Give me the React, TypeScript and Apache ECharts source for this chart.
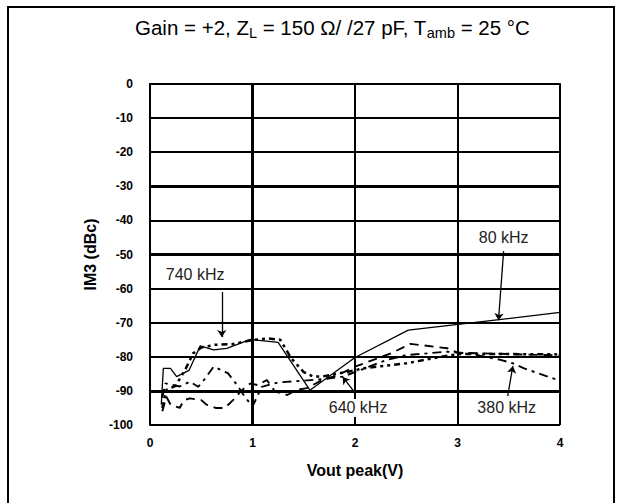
import { useEffect, useRef } from "react";
import * as echarts from "echarts";

// Axis ticks
const xTicks = [0, 1, 2, 3, 4];
const yTicks = [0, -10, -20, -30, -40, -50, -60, -70, -80, -90, -100];
const heavyY = [-30, -50, -90];
const heavyX = [1];

// 80 kHz
const f80X = [0.11, 0.13, 0.2, 0.26, 0.38, 0.49, 0.62, 0.75, 0.98, 1.25, 1.56, 2.0, 2.52, 4.0];
const f80Y = [-94, -83.4, -83.4, -85.8, -84, -76.8, -78, -77.5, -74.9, -75.8, -89.8, -80.2, -72.2, -67];

// 740 kHz
const f740X = [0.12, 0.16, 0.25, 0.35, 0.42, 0.5, 0.63, 0.8, 0.99, 1.15, 1.27, 1.38, 1.5, 1.59, 1.68, 1.85, 2.0, 2.07, 2.3, 2.5, 2.77, 3.0, 3.5, 4.0];
const f740Y = [-95, -89.7, -88.5, -83.4, -79, -77.3, -76.5, -76.3, -75.1, -74.6, -75, -80.5, -84.5, -85.8, -85.8, -84.8, -84, -83.4, -82.6, -81.9, -80.4, -79.2, -79.2, -79.3];

// 640 kHz
const f640X = [0.12, 0.16, 0.2, 0.29, 0.33, 0.39, 0.5, 0.55, 0.64, 0.73, 0.81, 0.9, 0.98, 1.05, 1.14, 1.22, 1.34, 1.43, 1.53, 1.68, 1.84, 2.0, 2.35, 2.54, 2.9, 3.0, 3.5, 4.0];
const f640Y = [-96, -91.7, -94, -95, -92.7, -92.2, -92.7, -94, -95, -95, -92.7, -89.7, -87.8, -88.3, -86.8, -90.2, -91.2, -89.7, -89.2, -86.8, -85.3, -82.9, -79, -76.2, -77.5, -78.8, -79.2, -79.6];

// 380 kHz
const f380X = [0.12, 0.15, 0.29, 0.39, 0.47, 0.54, 0.62, 0.76, 0.85, 0.92, 1.0, 1.09, 1.25, 1.5, 1.7, 1.88, 2.0, 2.3, 2.5, 2.9, 3.1, 3.42, 3.54, 3.65, 3.88, 4.0];
const f380Y = [-92, -87.8, -88.7, -87.3, -88.8, -86.3, -82.9, -84.8, -88.3, -91.5, -94.6, -88.8, -87.5, -87, -86.5, -85.8, -84.5, -81, -79.5, -78.5, -79, -80.9, -81.9, -83.4, -85.8, -87];

// Callouts: label position, arrow start, arrow tip (data coordinates)
const calloutText = ["80 kHz", "740 kHz", "640 kHz", "380 kHz"];
const calloutAt = [[3.45, -44.9], [0.44, -56], [2.03, -95], [3.48, -95]];
const calloutFrom = [[3.45, -49], [0.7, -61], [2.0, -90.6], [3.49, -91.5]];
const calloutTo = [[3.4, -69.3], [0.7, -74.2], [1.88, -85.9], [3.54, -82.7]];
const calloutBox = [false, false, true, false];

const FONT = "Liberation Sans, Arial, sans-serif";

const pairs = (xs: number[], ys: number[]) => xs.map((x, i) => [x, ys[i]]);

function callout(i: number) {
  return {
    markLine: {
      silent: true,
      symbol: ["none", "arrow"],
      symbolSize: 7,
      lineStyle: { color: "#000", width: 1.3, type: "solid" },
      label: { show: false },
      data: [[{ coord: calloutFrom[i] }, { coord: calloutTo[i] }]],
    },
    markPoint: {
      silent: true,
      symbol: "rect",
      symbolSize: 1,
      itemStyle: { color: "transparent" },
      label: {
        show: true,
        position: "inside",
        formatter: calloutText[i],
        fontFamily: FONT,
        fontSize: 16,
        color: "#222",
        backgroundColor: calloutBox[i] ? "#fff" : "transparent",
        padding: [1, 3],
      },
      data: [{ coord: calloutAt[i] }],
    },
  };
}

export default function App() {
  const ref = useRef<HTMLDivElement>(null);

  useEffect(() => {
    if (!ref.current) return;
    const chart = echarts.init(ref.current, undefined, { renderer: "svg" });
    chart.setOption({
      animation: false,
      backgroundColor: "#fff",
      title: {
        text: "Gain = +2, Z{sub|L} = 150 Ω/ /27 pF, T{sub|amb} = 25 °C",
        left: 130,
        top: 10,
        textStyle: {
          fontFamily: FONT,
          fontSize: 20.5,
          fontWeight: "normal",
          color: "#000",
          rich: {
            sub: { fontFamily: FONT, fontSize: 14.5, color: "#000", padding: [10, 0, 0, 0] },
          },
        },
      },
      graphic: [
        {
          type: "rect",
          silent: true,
          shape: { x: 8, y: 7, width: 606, height: 520 },
          style: { fill: "none", stroke: "#000", lineWidth: 2 },
        },
      ],
      grid: { left: 150, right: 62, top: 84, bottom: 78, show: false },
      xAxis: {
        type: "value",
        min: xTicks[0],
        max: xTicks[xTicks.length - 1],
        interval: 1,
        name: "Vout peak(V)",
        nameLocation: "middle",
        nameGap: 37,
        nameTextStyle: { fontFamily: FONT, fontSize: 16, fontWeight: "bold", color: "#000" },
        axisLine: { show: true, lineStyle: { color: "#000", width: 2 } },
        axisTick: { show: false },
        axisLabel: { fontFamily: FONT, fontSize: 12, fontWeight: "bold", color: "#000", margin: 12 },
        splitLine: { show: true, lineStyle: { color: "#000", width: 2 } },
      },
      yAxis: {
        type: "value",
        min: yTicks[yTicks.length - 1],
        max: yTicks[0],
        interval: 10,
        name: "IM3 (dBc)",
        nameLocation: "middle",
        nameRotate: 90,
        nameGap: 26,
        nameTextStyle: { fontFamily: FONT, fontSize: 16, fontWeight: "bold", color: "#000" },
        axisLine: { show: true, lineStyle: { color: "#000", width: 2 } },
        axisTick: { show: false },
        axisLabel: { fontFamily: FONT, fontSize: 12, fontWeight: "bold", color: "#000", margin: 17 },
        splitLine: { show: true, lineStyle: { color: "#000", width: 2 } },
      },
      series: [
        {
          name: "grid",
          type: "line",
          data: [],
          z: 1,
          markLine: {
            silent: true,
            symbol: "none",
            label: { show: false },
            lineStyle: { color: "#000", width: 3, type: "solid" },
            data: [
              ...heavyY.map((v) => ({ yAxis: v })),
              ...heavyX.map((v) => ({ xAxis: v })),
            ],
          },
        },
        {
          name: "80 kHz",
          type: "line",
          z: 3,
          showSymbol: false,
          symbol: "none",
          data: pairs(f80X, f80Y),
          lineStyle: { color: "#000", width: 1.3, type: "solid" },
          ...callout(0),
        },
        {
          name: "740 kHz",
          type: "line",
          z: 3,
          showSymbol: false,
          symbol: "none",
          data: pairs(f740X, f740Y),
          lineStyle: { color: "#000", width: 2.5, type: [6, 4, 3, 4, 3, 4], cap: "butt" },
          ...callout(1),
        },
        {
          name: "640 kHz",
          type: "line",
          z: 3,
          showSymbol: false,
          symbol: "none",
          data: pairs(f640X, f640Y),
          lineStyle: { color: "#000", width: 1.9, type: [9, 6], cap: "butt" },
          ...callout(2),
        },
        {
          name: "380 kHz",
          type: "line",
          z: 3,
          showSymbol: false,
          symbol: "none",
          data: pairs(f380X, f380Y),
          lineStyle: { color: "#000", width: 1.9, type: [9, 5, 3, 5], cap: "butt" },
          ...callout(3),
        },
      ],
    });
    return () => chart.dispose();
  }, []);

  return (
    <div
      ref={ref}
      style={{ position: "fixed", left: 0, top: 0, width: 622, height: 503 }}
    />
  );
}
